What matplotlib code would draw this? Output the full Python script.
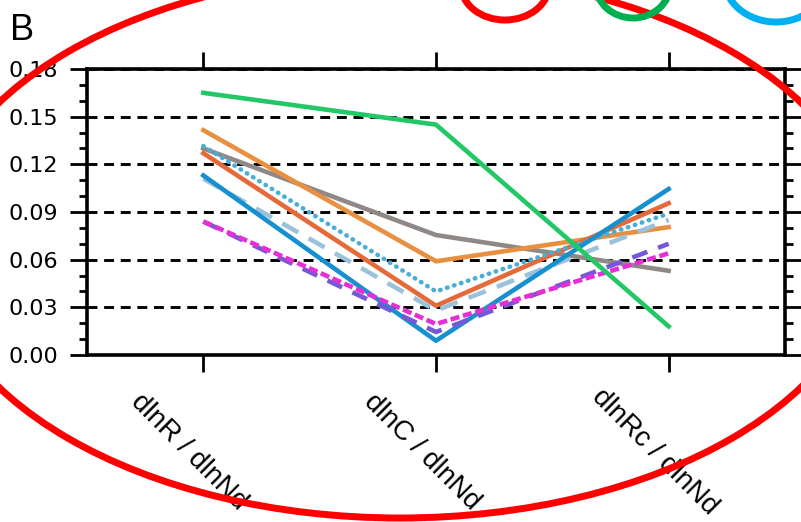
import matplotlib.pyplot as plt
from matplotlib.patches import Ellipse
from matplotlib.ticker import MultipleLocator

# categories and values
categories = ['dlnR / dlnNd', 'dlnC / dlnNd', 'dlnRc / dlnNd']
green = [0.165, 0.145, 0.018]
gray = [0.130, 0.0755, 0.053]
orange = [0.1415, 0.059, 0.0805]
red_orange = [0.127, 0.031, 0.0955]
blue_dotted = [0.1315, 0.040, 0.089]
pale_dashed = [0.111, 0.028, 0.085]
blue = [0.113, 0.009, 0.1045]
purple_dashed = [0.084, 0.0145, 0.070]
magenta_dashed = [0.084, 0.0195, 0.064]

W, H = 801, 522
fig = plt.figure(figsize=(W / 100, H / 100), dpi=100)
ax = fig.add_axes([87 / W, 1 - 355 / H, (785 - 87) / W, (355 - 69) / H])

x = range(len(categories))
lw = 3.3
ax.plot(x, gray, color='#8f8886', lw=lw, zorder=3)
ax.plot(x, orange, color='#e8903f', lw=lw, zorder=3)
ax.plot(x, red_orange, color='#e56a3a', lw=lw, zorder=3)
ax.plot(x, pale_dashed, color='#9cc2db', lw=lw, ls=(0, (4, 2.6)), zorder=3)
ax.plot(x, blue_dotted, color='#48aed8', lw=lw, ls=(0, (0.1, 1.5)),
        dash_capstyle='round', zorder=3)
ax.plot(x, blue, color='#1690cf', lw=lw, zorder=3)
ax.plot(x, purple_dashed, color='#7458d6', lw=lw, ls=(0, (3.5, 2.5)), zorder=3)
ax.plot(x, magenta_dashed, color='#e62ed6', lw=lw, ls=(0, (2, 0.8)), zorder=3)
ax.plot(x, green, color='#22c866', lw=lw, zorder=3)

ax.set_xlim(-0.5, 2.5)
ax.set_ylim(0, 0.18)
ax.yaxis.set_major_locator(MultipleLocator(0.03))
ax.yaxis.set_minor_locator(MultipleLocator(0.01))
ax.yaxis.set_major_formatter(plt.FormatStrFormatter('%.2f'))
ax.set_xticks(list(x))
ax.set_xticklabels([])

ax.tick_params(axis='both', which='major', direction='out', length=12, width=2,
               top=True, right=True, labelsize=16, pad=9)
ax.tick_params(axis='y', which='minor', direction='out', length=6, width=2,
               right=True)
for s in ax.spines.values():
    s.set_linewidth(2.6)

ax.yaxis.grid(True, which='major', color='black', lw=2.1, ls=(0, (3.4, 2.3)))
ax.xaxis.grid(False)

for i, lab in enumerate(categories):
    ax.text(i - 0.06, -0.339, lab, transform=ax.get_xaxis_transform(),
            rotation=-45, ha='center', va='center', fontsize=20,
            family='Liberation Sans', rotation_mode='anchor')

fig.text(10 / W, 1 - 40 / H, 'B', fontsize=26, family='Liberation Sans')

# hand-drawn highlight marks
def mark(cx, cy, w, h, color, lw=5):
    fig.patches.append(Ellipse((cx / W, 1 - cy / H), w / W, h / H,
                               transform=fig.transFigure, fill=False,
                               edgecolor=color, lw=lw, zorder=10))

mark(400, 245, 940, 546, '#ff0000')
mark(505, -15, 88, 70, '#ff0000')
mark(633, -15, 74, 66, '#00b050')
mark(776, -22, 104, 88, '#00b0f0')

fig.savefig('out.png', dpi=100)
